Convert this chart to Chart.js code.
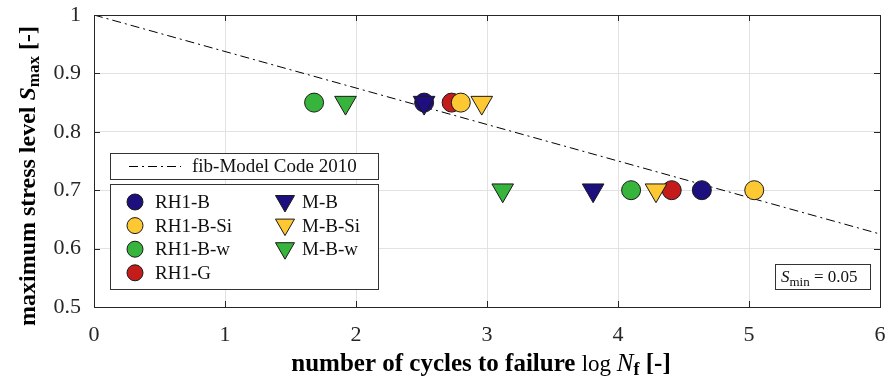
<!DOCTYPE html>
<html lang="en">
<head>
<meta charset="UTF-8">
<title>S-N diagram - fatigue tests</title>
<script src="https://cdn.jsdelivr.net/npm/chart.js"></script>
<style>
  html, body { margin: 0; padding: 0; background: #fff; overflow: hidden; }
  #wrap { width: 888px; height: 381px; position: relative; }
</style>
</head>
<body>
<div id="wrap"><canvas id="snChart"></canvas></div>
<script>
// test results: [log Nf, Smax]
const rh1B   = [[2.52, 0.85], [4.64, 0.70]];
const rh1BSi = [[2.80, 0.85], [5.04, 0.70]];
const rh1Bw  = [[1.68, 0.85], [4.10, 0.70]];
const rh1G   = [[2.73, 0.85], [4.41, 0.70]];
const mB     = [[2.52, 0.85], [3.81, 0.70]];
const mBSi   = [[2.96, 0.85], [4.29, 0.70]];
const mBw    = [[1.92, 0.85], [3.12, 0.70]];

// fib Model Code 2010 curve for Smin = 0.05
const fibLine = [[0, 1.0], [6, 0.625]];

const seriesNames  = ['RH1-B', 'RH1-B-Si', 'RH1-B-w', 'RH1-G', 'M-B', 'M-B-Si', 'M-B-w'];
const seriesData   = [rh1B, rh1BSi, rh1Bw, rh1G, mB, mBSi, mBw];
const seriesColors = ['#1d0f7e', '#fec832', '#37b43b', '#c41b1b', '#1d0f7e', '#fec832', '#37b43b'];
const seriesShapes = ['circle', 'circle', 'circle', 'circle', 'triangle', 'triangle', 'triangle'];
// draw order (higher = further back)
const seriesOrder  = [5, 4, 6, 7, 1, 2, 3];

const xTicks = [0, 1, 2, 3, 4, 5, 6];
const yTicks = [0.5, 0.6, 0.7, 0.8, 0.9, 1];

const SERIF = '"Liberation Serif", "Times New Roman", serif';

const toPts = arr => arr.map(p => ({ x: p[0], y: p[1] }));

const datasets = seriesNames.map((name, i) => ({
  label: name,
  data: toPts(seriesData[i]),
  showLine: false,
  pointStyle: seriesShapes[i],
  pointRotation: seriesShapes[i] === 'triangle' ? 180 : 0,
  pointRadius: seriesShapes[i] === 'triangle' ? 12.5 : 9.5,
  pointBackgroundColor: seriesColors[i],
  pointBorderColor: '#1a1a1a',
  pointBorderWidth: 1,
  order: seriesOrder[i]
}));

datasets.push({
  label: 'fib-Model Code 2010',
  data: toPts(fibLine),
  showLine: true,
  borderColor: '#000',
  borderWidth: 1,
  borderDash: [9, 4, 2, 4],
  pointRadius: 0,
  order: 10
});

// draws a marker at (x, y)
function marker(ctx, shape, x, y, r, fill) {
  ctx.save();
  ctx.beginPath();
  if (shape === 'circle') {
    ctx.arc(x, y, r, 0, Math.PI * 2);
  } else {
    const h = r * Math.sqrt(3) / 2;
    ctx.moveTo(x, y + r);
    ctx.lineTo(x - h, y - r / 2);
    ctx.lineTo(x + h, y - r / 2);
    ctx.closePath();
  }
  ctx.fillStyle = fill;
  ctx.fill();
  ctx.strokeStyle = '#1a1a1a';
  ctx.lineWidth = 1;
  ctx.stroke();
  ctx.restore();
}

// writes a run of [text, font, dy] pieces left to right
function richText(ctx, parts, x, y) {
  let cx = x;
  parts.forEach(([txt, font, dy]) => {
    ctx.font = font;
    ctx.fillText(txt, cx, y + (dy || 0));
    cx += ctx.measureText(txt).width;
  });
  return cx - x;
}
function richWidth(ctx, parts) {
  let w = 0;
  parts.forEach(([txt, font]) => { ctx.font = font; w += ctx.measureText(txt).width; });
  return w;
}

const framePlugin = {
  id: 'frame',
  afterDraw(chart) {
    const { ctx, chartArea: a, scales } = chart;
    ctx.save();

    // inner tick marks + box
    ctx.strokeStyle = '#262626';
    ctx.lineWidth = 1;
    ctx.beginPath();
    xTicks.forEach(v => {
      const px = Math.round(scales.x.getPixelForValue(v)) + 0.5;
      ctx.moveTo(px, a.bottom); ctx.lineTo(px, a.bottom - 6);
      ctx.moveTo(px, a.top); ctx.lineTo(px, a.top + 6);
    });
    yTicks.forEach(v => {
      const py = Math.round(scales.y.getPixelForValue(v)) + 0.5;
      ctx.moveTo(a.left, py); ctx.lineTo(a.left + 6, py);
      ctx.moveTo(a.right, py); ctx.lineTo(a.right - 6, py);
    });
    ctx.stroke();
    ctx.strokeRect(Math.round(a.left) + 0.5, Math.round(a.top) + 0.5,
      Math.round(a.right - a.left), Math.round(a.bottom - a.top));

    // legend: model code line
    ctx.fillStyle = '#fff';
    ctx.fillRect(110, 153, 268, 26);
    ctx.strokeStyle = '#333';
    ctx.strokeRect(110.5, 153.5, 268, 26);
    ctx.strokeStyle = '#000';
    ctx.setLineDash([9, 4, 2, 4]);
    ctx.beginPath();
    ctx.moveTo(129, 166.5); ctx.lineTo(181, 166.5);
    ctx.stroke();
    ctx.setLineDash([]);
    ctx.fillStyle = '#111';
    ctx.font = '19px ' + SERIF;
    ctx.textBaseline = 'middle';
    ctx.fillText(datasets[7].label, 192, 167);

    // legend: test series
    ctx.fillStyle = '#fff';
    ctx.fillRect(110, 184, 268, 105);
    ctx.strokeStyle = '#333';
    ctx.strokeRect(110.5, 184.5, 268, 105);
    seriesNames.forEach((name, i) => {
      const col = i < 4 ? 0 : 1;
      const row = i < 4 ? i : i - 4;
      const y = 202 + row * 23.6;
      const mx = col === 0 ? 135 : 285;
      if (seriesShapes[i] === 'circle') marker(ctx, 'circle', mx, y, 8, seriesColors[i]);
      else marker(ctx, 'triangle', mx, y - 1, 11, seriesColors[i]);
      ctx.fillStyle = '#111';
      ctx.font = '19px ' + SERIF;
      ctx.fillText(name, col === 0 ? 155 : 302, y + 1);
    });

    // Smin annotation
    ctx.fillStyle = '#fff';
    ctx.fillRect(775, 264, 95, 25);
    ctx.strokeStyle = '#333';
    ctx.strokeRect(775.5, 264.5, 95, 25);
    ctx.fillStyle = '#111';
    ctx.textBaseline = 'alphabetic';
    richText(ctx, [
      ['S', 'italic 17px ' + SERIF, 0],
      ['min', '13px ' + SERIF, 4],
      [' = 0.05', '17px ' + SERIF, 0]
    ], 781, 282);

    // axis titles
    ctx.fillStyle = '#000';
    const xParts = [
      ['number of cycles to failure ', 'bold 25px ' + SERIF, 0],
      ['log ', '23px ' + SERIF, 0],
      ['N', 'italic 25px ' + SERIF, 0],
      ['f', 'bold 18px ' + SERIF, 4],
      [' [-]', 'bold 25px ' + SERIF, 0]
    ];
    const xw = richWidth(ctx, xParts);
    richText(ctx, xParts, 481 - xw / 2, 371);

    const yParts = [
      ['maximum stress level ', 'bold 24px ' + SERIF, 0],
      ['S', 'bold italic 24px ' + SERIF, 0],
      ['max', 'bold 17px ' + SERIF, 4],
      [' [-]', 'bold 24px ' + SERIF, 0]
    ];
    const yw = richWidth(ctx, yParts);
    ctx.translate(35, 176);
    ctx.rotate(-Math.PI / 2);
    richText(ctx, yParts, -yw / 2, 0);

    ctx.restore();
  }
};

new Chart(document.getElementById('snChart'), {
  type: 'scatter',
  data: { datasets },
  options: {
    responsive: true,
    maintainAspectRatio: false,
    animation: false,
    events: [],
    layout: { autoPadding: false, padding: { left: 0, right: 8, top: 15, bottom: 0 } },
    plugins: { legend: { display: false }, tooltip: { enabled: false } },
    scales: {
      x: {
        type: 'linear',
        min: 0, max: 6,
        afterFit: s => { s.height = 74; s.paddingLeft = 0; s.paddingRight = 0; },
        afterBuildTicks: s => { s.ticks = xTicks.map(v => ({ value: v })); },
        grid: { color: '#e2e2e2', drawTicks: false },
        border: { display: false },
        ticks: { color: '#262626', padding: 15, font: { family: SERIF, size: 22 } }
      },
      y: {
        type: 'linear',
        min: 0.5, max: 1,
        afterFit: s => { s.width = 94; s.paddingTop = 0; s.paddingBottom = 0; },
        afterBuildTicks: s => { s.ticks = yTicks.map(v => ({ value: v })); },
        grid: { color: '#e2e2e2', drawTicks: false },
        border: { display: false },
        ticks: {
          color: '#262626', padding: 13,
          font: { family: SERIF, size: 22 },
          callback: v => (v === 1 ? '1' : v.toFixed(1))
        }
      }
    }
  },
  plugins: [framePlugin]
});
</script>
</body>
</html>
